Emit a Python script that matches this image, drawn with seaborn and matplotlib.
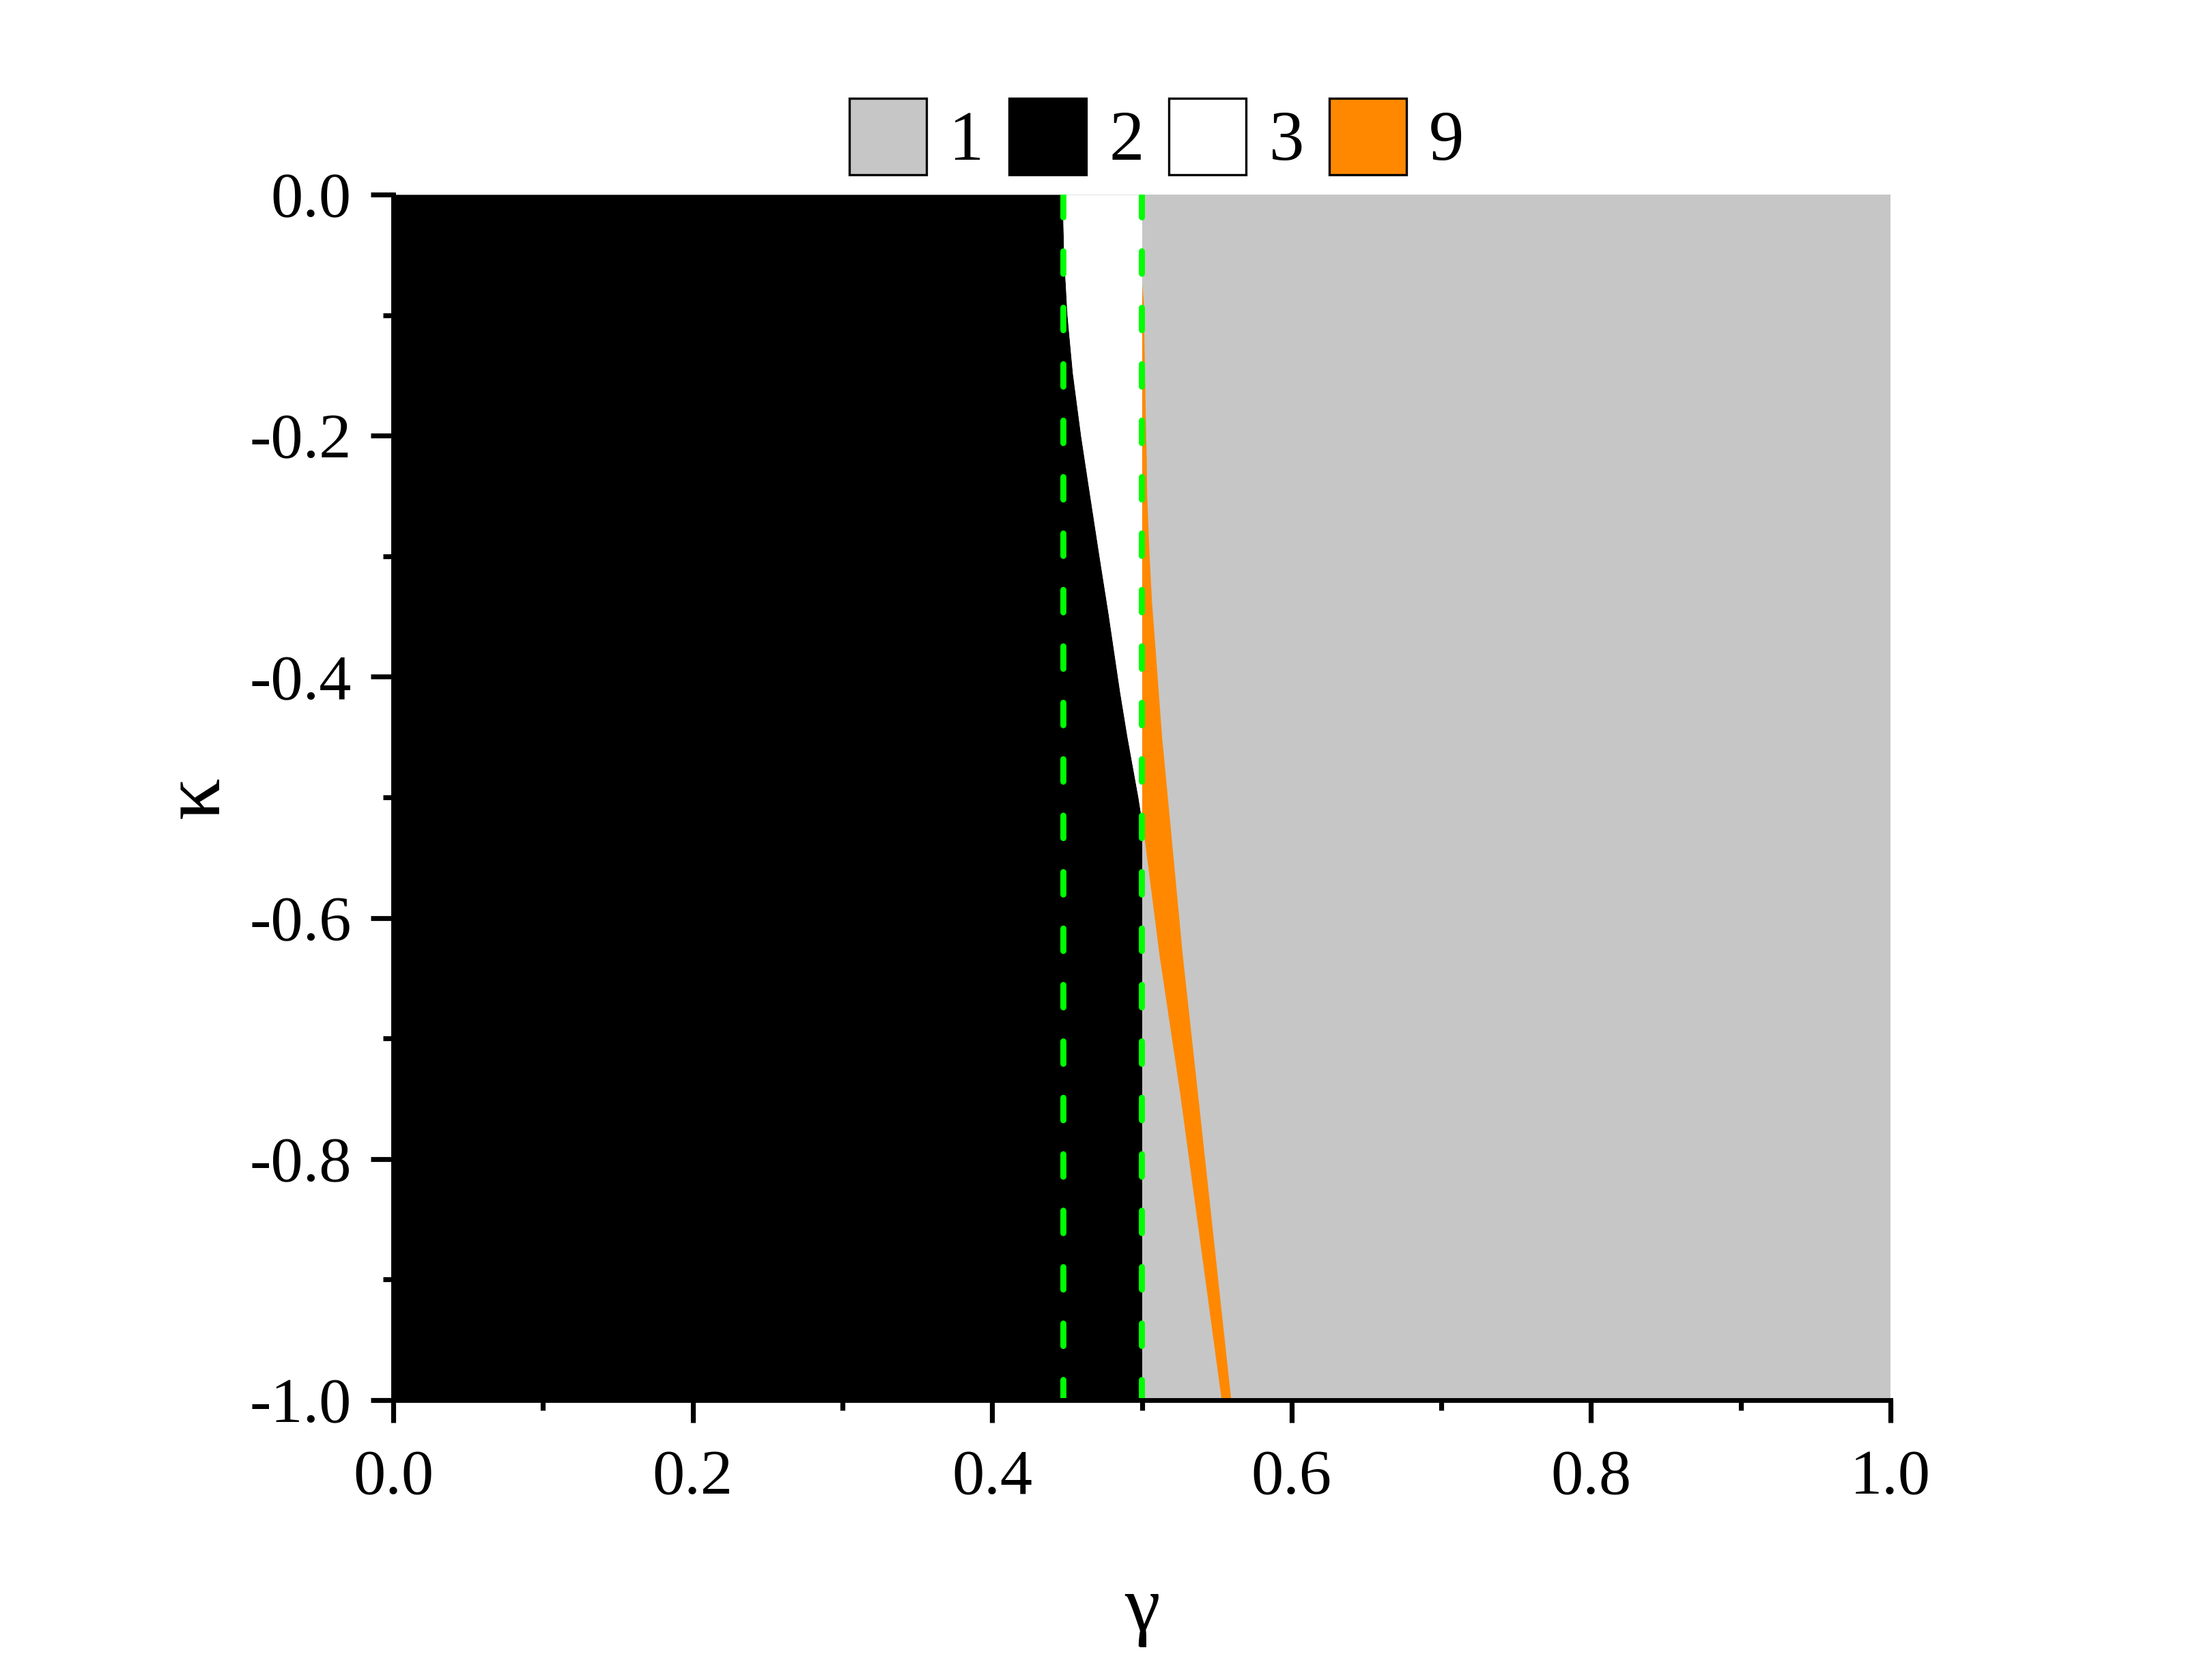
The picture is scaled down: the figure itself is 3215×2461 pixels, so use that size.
import numpy as np
import pandas as pd
import matplotlib
matplotlib.use("Agg")
import matplotlib.pyplot as plt
from matplotlib.patches import Patch
import seaborn as sns

# ---------------- data ----------------
# boundary between state 2 (black) and state 3 (white)
kappa_23 = [0.0, -0.051, -0.1, -0.148, -0.2, -0.245, -0.3, -0.348, -0.412, -0.45, -0.5, -0.52]
gamma_23 = [0.4469, 0.4479, 0.4501, 0.4537, 0.4592, 0.4647, 0.4715, 0.4776, 0.4852, 0.4902, 0.4975, 0.5]

# right boundary of state 9 (orange)
kappa_9r = [-0.074, -0.09, -0.122, -0.186, -0.218, -0.25, -0.299, -0.337,
            -0.375, -0.412, -0.45, -0.518, -0.631, -0.745, -1.0]
gamma_9r = [0.5, 0.5011, 0.5015, 0.5024, 0.5030, 0.5033, 0.5049, 0.5065,
            0.5088, 0.5110, 0.5133, 0.5185, 0.5271, 0.5372, 0.5595]

# left boundary of state 9 below the triple point
kappa_9l = [-0.52, -0.548, -0.631, -0.745, -1.0]
gamma_9l = [0.5, 0.5007, 0.5116, 0.5253, 0.5531]

# dashed reference lines
gamma_ref = [0.4475, 0.5]
kappa_ref_span = [0.0, -1.0]

legend_labels = ["1", "2", "3", "9"]
state_colors = {"1": "#C6C6C6", "2": "#000000", "3": "#FFFFFF", "9": "#FF8800"}

x_ticks = [0.0, 0.2, 0.4, 0.6, 0.8, 1.0]
y_ticks = [0.0, -0.2, -0.4, -0.6, -0.8, -1.0]

# ---------------- style ----------------
sns.set_theme(style="ticks")
plt.rcParams["font.family"] = ["Liberation Serif", "DejaVu Serif"]
plt.rcParams["axes.unicode_minus"] = False
plt.rcParams["text.color"] = "black"
plt.rcParams["axes.labelcolor"] = "black"
plt.rcParams["xtick.color"] = "black"
plt.rcParams["ytick.color"] = "black"

W, H, DPI = 3216, 2461, 200
fig = plt.figure(figsize=(W / DPI, H / DPI), dpi=DPI)
ax = fig.add_axes([576 / W, 1 - 2051 / H, (2769 - 576) / W, (2051 - 285) / H])

# ---------------- regions ----------------
# state 1 (gray) everywhere
ax.fill_betweenx([0.0, -1.0], [0.0, 0.0], [1.0, 1.0], color=state_colors["1"], lw=0, zorder=1)

# state 2 (black)
k_black = np.array(kappa_23 + [-1.0])
g_black = np.array(gamma_23 + [0.5])
ax.fill_betweenx(k_black, 0.0, g_black, color=state_colors["2"], lw=0, zorder=2)

# state 3 (white)
ax.fill_betweenx(np.array(kappa_23), np.array(gamma_23), 0.5,
                 color=state_colors["3"], lw=0, zorder=2)

# state 9 (orange)
k_all = np.array(kappa_9r)
left_interp = np.where(k_all >= -0.52, 0.5,
                       np.interp(-k_all, [-k for k in kappa_9l], gamma_9l))
ax.fill_betweenx(k_all, left_interp, np.array(gamma_9r),
                 color=state_colors["9"], lw=0, zorder=3)

# dashed green reference lines
for g in gamma_ref:
    df = pd.DataFrame({"g": [g, g], "k": kappa_ref_span})
    sns.lineplot(data=df, x="g", y="k", estimator=None, sort=False, ax=ax,
                 color="#00FF00", lw=3.2, linestyle=(0, (3.7, 5.6)),
                 dash_capstyle="round", zorder=4)

# ---------------- axes ----------------
ax.set_xlim(0, 1)
ax.set_ylim(-1, 0)
ax.set_xticks(x_ticks)
ax.set_xticklabels([f"{v:.1f}" for v in x_ticks])
ax.set_yticks(y_ticks)
ax.set_yticklabels([f"{v:.1f}" for v in y_ticks])
ax.set_xticks(np.arange(0.1, 1.0, 0.2), minor=True)
ax.set_yticks(-np.arange(0.1, 1.0, 0.2), minor=True)

sns.despine(ax=ax)
for s in ["left", "bottom"]:
    ax.spines[s].set_linewidth(2.5)
    ax.spines[s].set_color("black")
    ax.spines[s].set_zorder(6)
ax.tick_params(axis="both", which="major", direction="out", length=12, width=2.6,
               color="black", labelsize=34, labelcolor="black")
ax.tick_params(axis="both", which="minor", direction="out", length=5.4, width=2.6,
               color="black")
ax.tick_params(axis="x", which="major", pad=14)
ax.tick_params(axis="y", which="major", pad=10)
ax.set_facecolor("white")
ax.grid(False)

ax.set_xlabel("γ", fontsize=42, color="black", va="center", ha="center")
ax.xaxis.set_label_coords(0.5, -(2360 - 2051) / (2051 - 285))
ax.set_ylabel("κ", fontsize=44, color="black", va="center", ha="center")
ax.yaxis.set_label_coords((290 - 576) / (2769 - 576), 0.5)

# ---------------- legend ----------------
handles = [Patch(facecolor=state_colors[l], edgecolor="black", linewidth=1.2) for l in legend_labels]
leg = fig.legend(handles, legend_labels, loc="center", bbox_to_anchor=(1694 / W, 1 - 200 / H),
                 ncol=4, frameon=False, fontsize=37, handlelength=1.1, handleheight=1.3,
                 handletextpad=0.32, columnspacing=0.36, borderpad=0)
for t in leg.get_texts():
    t.set_color("black")

fig.savefig("out.png", dpi=DPI, facecolor="white")
